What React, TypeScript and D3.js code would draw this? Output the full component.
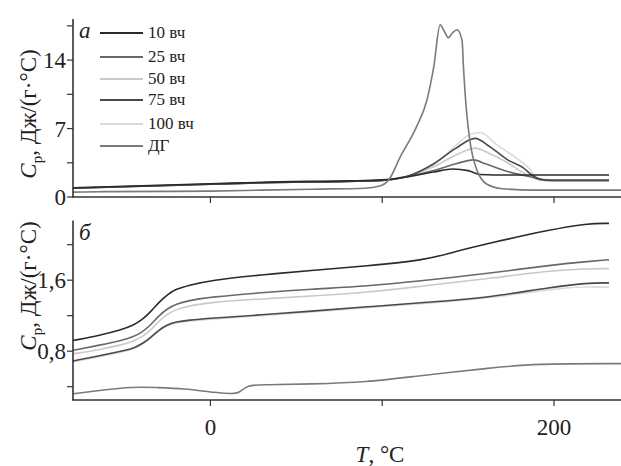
import * as d3 from 'd3';
import React from 'react';

// температура, °C — общая ось для обеих панелей
const seriesNames = ['10 вч', '25 вч', '50 вч', '75 вч', '100 вч', 'ДГ'];
const seriesColors = ['#2b2b2b', '#686868', '#c9c9c9', '#4a4a4a', '#dadada', '#7a7a7a'];

// панель а: Cp, Дж/(г·°С)
const topT10 = [-80, -40, 0, 40, 80, 100, 116, 130, 141, 150, 157, 165, 232];
const topV10 = [0.95, 1.15, 1.35, 1.55, 1.65, 1.75, 2.1, 2.55, 2.86, 2.7, 2.3, 2.25, 2.25];
const topT25 = [-80, -40, 0, 40, 80, 100, 116, 130, 143, 153, 160, 173, 188, 196, 232];
const topV25 = [0.9, 1.1, 1.3, 1.5, 1.6, 1.7, 2.15, 2.7, 3.4, 3.8, 3.4, 2.6, 2.0, 1.7, 1.7];
const topT50 = [-80, -40, 0, 40, 80, 100, 116, 130, 143, 154, 163, 173, 182, 192, 200, 232];
const topV50 = [0.92, 1.12, 1.32, 1.52, 1.62, 1.7, 2.2, 3.1, 4.3, 5.0, 4.4, 3.5, 2.5, 1.75, 1.7, 1.7];
const topT75 = [-80, -40, 0, 40, 80, 100, 116, 130, 143, 154, 163, 173, 182, 187, 192, 200, 232];
const topV75 = [0.9, 1.1, 1.3, 1.5, 1.6, 1.7, 2.2, 3.4, 5.0, 6.0, 5.1, 3.8, 3.0, 2.25, 1.8, 1.7, 1.7];
const topT100 = [-80, -40, 0, 40, 80, 100, 116, 130, 143, 150, 157, 167, 178, 185, 190, 197, 232];
const topV100 = [0.93, 1.13, 1.33, 1.53, 1.63, 1.7, 2.2, 3.3, 5.3, 6.3, 6.6, 5.3, 4.0, 3.0, 2.0, 1.7, 1.7];
const topTDG = [-80, -60, 0, 30, 60, 90, 98, 104, 110.5, 120, 126, 130, 133.7, 136, 138.5, 141, 143.6, 146.5, 147.3, 149, 151, 155, 161, 170, 188, 239];
const topVDG = [0.5, 0.55, 0.6, 0.7, 0.8, 0.9, 1.1, 1.8, 4.1, 7.2, 9.9, 13.3, 17.6, 17.0, 16.3, 16.8, 17.1, 16.0, 13.3, 8.9, 5.8, 2.8, 1.3, 0.85, 0.7, 0.7];

// панель б
const botT = [-80, -64, -52, -45, -40, -35, -30, -25, -20, -13, 0, 30, 58, 91, 126, 140, 163, 198, 219, 232];
const botV10 = [0.92, 0.98, 1.04, 1.09, 1.15, 1.24, 1.35, 1.44, 1.5, 1.54, 1.6, 1.66, 1.71, 1.76, 1.83, 1.91, 2.02, 2.17, 2.24, 2.24];
const botV25 = [0.81, 0.87, 0.92, 0.96, 1.01, 1.09, 1.2, 1.28, 1.33, 1.37, 1.41, 1.46, 1.5, 1.53, 1.6, 1.63, 1.68, 1.77, 1.81, 1.83];
const botV50 = [0.77, 0.82, 0.87, 0.91, 0.96, 1.03, 1.14, 1.22, 1.27, 1.31, 1.35, 1.39, 1.42, 1.46, 1.54, 1.57, 1.62, 1.71, 1.73, 1.73];
const botV75 = [0.69, 0.75, 0.8, 0.83, 0.88, 0.95, 1.04, 1.1, 1.13, 1.15, 1.17, 1.21, 1.25, 1.3, 1.35, 1.37, 1.41, 1.52, 1.57, 1.57];
const botV100 = [0.68, 0.74, 0.79, 0.82, 0.87, 0.94, 1.03, 1.09, 1.12, 1.14, 1.16, 1.2, 1.24, 1.29, 1.34, 1.36, 1.4, 1.5, 1.53, 1.52];
const botTDG = [-80, -64, -45, -31, -16, 4, 13, 17, 21.5, 30, 58, 91, 120, 163, 188, 239];
const botVDG = [0.32, 0.36, 0.4, 0.39, 0.38, 0.33, 0.32, 0.33, 0.42, 0.42, 0.43, 0.45, 0.52, 0.61, 0.66, 0.66];

const xTicks = [0, 100, 200];
const xTickLabels = ['0', '', '200'];
const topTicks = [0, 3.5, 7, 10.5, 14, 17.5];
const topTickLabels = ['0', '', '7', '', '14', ''];
const botTicks = [0.4, 0.8, 1.2, 1.6, 2.0];
const botTickLabels = ['', '0,8', '', '1,6', ''];

const zip = (t: number[], v: number[]) => t.map((d, i) => [d, v[i]] as [number, number]);

const topSeries = [
  zip(topT10, topV10),
  zip(topT25, topV25),
  zip(topT50, topV50),
  zip(topT75, topV75),
  zip(topT100, topV100),
  zip(topTDG, topVDG),
];
const botSeries = [
  zip(botT, botV10),
  zip(botT, botV25),
  zip(botT, botV50),
  zip(botT, botV75),
  zip(botT, botV100),
  zip(botTDG, botVDG),
];

const FONT = '"Liberation Serif", "DejaVu Serif", serif';
const AXIS = '#333';

const x = d3.scaleLinear().domain([-80, 239]).range([73, 621]);
const yTop = d3.scaleLinear().domain([0, 18]).range([197, 21]);
const yBot = d3.scaleLinear().domain([0.25, 2.25]).range([400, 222.5]);

const YLabel = ({ cx, cy }) => (
  <text
    transform={`translate(${cx},${cy}) rotate(-90)`}
    textAnchor="middle"
    fontFamily={FONT}
    fontSize={23}
    fill="#222"
  >
    <tspan fontStyle="italic">C</tspan>
    <tspan fontSize={15} dy={6}>р</tspan>
    <tspan dy={-6}>, Дж/(г·°С)</tspan>
  </text>
);

const Panel = ({ series, y, ticks, tickLabels, xLabels, letter, curve }) => {
  const line = d3
    .line<[number, number]>()
    .x((d) => x(d[0]))
    .y((d) => y(d[1]))
    .curve(curve);
  const [y0, y1] = y.range();
  // рисуем светлые линии первыми, тёмные поверх
  const order = [4, 2, 1, 3, 0, 5];
  return (
    <g>
      {order.map((i) => (
        <path key={i} d={line(series[i]) || ''} fill="none" stroke={seriesColors[i]} strokeWidth={1.6} />
      ))}
      <line x1={73} x2={73} y1={y0} y2={y1 - 2} stroke={AXIS} strokeWidth={1.6} />
      <line x1={72} x2={621} y1={y0} y2={y0} stroke={AXIS} strokeWidth={1.6} />
      {ticks.map((t, i) => (
        <g key={t}>
          <line x1={67} x2={73} y1={y(t)} y2={y(t)} stroke={AXIS} strokeWidth={1.2} />
          {tickLabels[i] && (
            <text x={66} y={y(t) + 8} textAnchor="end" fontFamily={FONT} fontSize={23} fill="#222">
              {tickLabels[i]}
            </text>
          )}
        </g>
      ))}
      {xTicks.map((t, i) => (
        <g key={t}>
          <line x1={x(t)} x2={x(t)} y1={y0} y2={y0 + 6} stroke={AXIS} strokeWidth={1.2} />
          {xLabels && (
            <text x={x(t)} y={y0 + 35} textAnchor="middle" fontFamily={FONT} fontSize={23} fill="#222">
              {xTickLabels[i]}
            </text>
          )}
        </g>
      ))}
      <text x={79} y={y1 + 17} fontFamily={FONT} fontStyle="italic" fontSize={23} fill="#222">
        {letter}
      </text>
    </g>
  );
};

const legendY = [33, 57, 79, 100, 124, 146];

export default function App() {
  return (
    <svg width={621} height={466} style={{ position: 'absolute', left: 0, top: 0, background: '#fff' }}>
      <rect width={621} height={466} fill="#fff" />
      <Panel series={topSeries} y={yTop} ticks={topTicks} tickLabels={topTickLabels} xLabels={false} letter="а" curve={d3.curveMonotoneX} />
      <Panel series={botSeries} y={yBot} ticks={botTicks} tickLabels={botTickLabels} xLabels={true} letter="б" curve={d3.curveBasis} />
      {seriesNames.map((n, i) => (
        <g key={n}>
          <line x1={100} x2={143} y1={legendY[i]} y2={legendY[i]} stroke={seriesColors[i]} strokeWidth={1.8} />
          <text x={148} y={legendY[i] + 5} fontFamily={FONT} fontSize={17} fill="#222">
            {n}
          </text>
        </g>
      ))}
      <YLabel cx={36} cy={114} />
      <YLabel cx={36} cy={286} />
      <text x={380} y={462} textAnchor="middle" fontFamily={FONT} fontSize={23} fill="#222">
        <tspan fontStyle="italic">T</tspan>, °C
      </text>
    </svg>
  );
}
